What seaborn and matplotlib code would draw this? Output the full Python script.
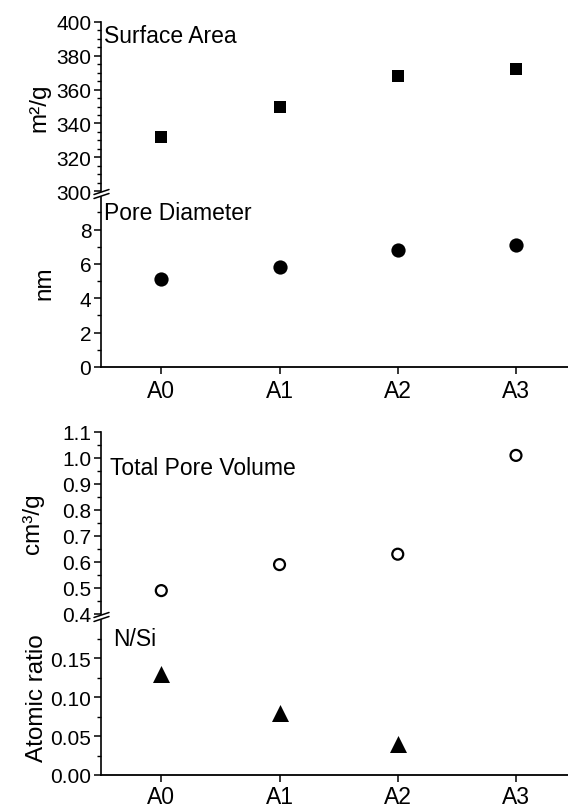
import matplotlib
matplotlib.use("Agg")
import matplotlib.pyplot as plt
from matplotlib.ticker import MultipleLocator, FormatStrFormatter
from matplotlib.lines import Line2D
import seaborn as sns

samples = ["A0", "A1", "A2", "A3"]
surface_area = [332, 350, 368, 372]
pore_diameter = [5.1, 5.8, 6.8, 7.1]
pore_volume = [0.49, 0.59, 0.63, 1.01]
n_si_ratio = [0.13, 0.08, 0.04]

sns.set_theme(style="ticks")
plt.rcParams["font.family"] = ["Liberation Sans", "DejaVu Sans"]
plt.rcParams["text.color"] = "black"
plt.rcParams["axes.edgecolor"] = "black"

fig = plt.figure(figsize=(5.68, 8.12), dpi=100)
H = 812.0
Wpx = 568.0
left = 101 / Wpx
width = 467 / Wpx

ax1 = fig.add_axes([left, 620 / H, width, 169 / H])
ax2 = fig.add_axes([left, 444 / H, width, 170 / H])
ax3 = fig.add_axes([left, 197 / H, width, 182 / H])
ax4 = fig.add_axes([left, 36 / H, width, 155 / H])

sns.scatterplot(x=samples, y=surface_area, ax=ax1, marker="s", s=75,
                color="black", edgecolor="black", linewidth=0)
sns.scatterplot(x=samples, y=pore_diameter, ax=ax2, marker="o", s=105,
                color="black", edgecolor="black", linewidth=0)
sns.scatterplot(x=samples, y=pore_volume, ax=ax3, marker="o", s=62,
                facecolor="none", edgecolor="black", linewidth=1.6)
sns.scatterplot(x=samples[:3], y=n_si_ratio, ax=ax4, marker="^", s=150,
                color="black", edgecolor="black", linewidth=0)

for ax in (ax1, ax2, ax3, ax4):
    ax.set_xlim(-0.51, 3.44)
    ax.set_xticks(range(len(samples)))
    ax.set_xticklabels(samples)
    for side in ("top", "right"):
        ax.spines[side].set_visible(False)
    ax.spines["left"].set_linewidth(1.2)
    ax.spines["bottom"].set_linewidth(1.3)
    ax.tick_params(axis="y", which="major", direction="out", length=5,
                   width=1.1, labelsize=15, pad=2, colors="black")
    ax.tick_params(axis="y", which="minor", direction="out", length=3,
                   width=1.0, colors="black")
    ax.tick_params(axis="x", which="major", direction="out", length=5,
                   width=1.1, labelsize=16.5, pad=4, colors="black")
    ax.set_xlabel("")

ax4.tick_params(axis="x", pad=2.5)

for ax in (ax1, ax3):
    ax.spines["bottom"].set_visible(False)
    ax.tick_params(axis="x", bottom=False, labelbottom=False)

ax1.set_ylim(300, 400)
ax1.yaxis.set_major_locator(MultipleLocator(20))
ax1.yaxis.set_minor_locator(MultipleLocator(5))

ax2.set_ylim(0, 9.9)
ax2.yaxis.set_major_locator(MultipleLocator(2))
ax2.yaxis.set_minor_locator(MultipleLocator(1))

ax3.set_ylim(0.4, 1.1)
ax3.yaxis.set_major_locator(MultipleLocator(0.1))
ax3.yaxis.set_minor_locator(MultipleLocator(0.05))
ax3.yaxis.set_major_formatter(FormatStrFormatter("%.1f"))

ax4.set_ylim(0, 0.199)
ax4.yaxis.set_major_locator(MultipleLocator(0.05))
ax4.yaxis.set_minor_locator(MultipleLocator(0.025))
ax4.yaxis.set_major_formatter(FormatStrFormatter("%.2f"))

labels = [(ax1, "m²/g", 50), (ax2, "nm", 55), (ax3, "cm³/g", 44), (ax4, "Atomic ratio", 48)]
for ax, lab, xr in labels:
    ax.set_ylabel(lab, fontsize=17.5, color="black")
    ax.yaxis.set_label_coords((xr - 101) / 467, 0.5)

ax1.text(0.006, 0.882, "Surface Area", transform=ax1.transAxes,
         fontsize=16.5, va="baseline", ha="left", color="black")
ax2.text(0.006, 0.871, "Pore Diameter", transform=ax2.transAxes,
         fontsize=16.5, va="baseline", ha="left", color="black")
ax3.text(0.019, 0.769, "Total Pore Volume", transform=ax3.transAxes,
         fontsize=16.5, va="baseline", ha="left", color="black")
ax4.text(0.026, 0.84, "N/Si", transform=ax4.transAxes,
         fontsize=16.5, va="baseline", ha="left", color="black")

# axis break marks
for ybreak in (195, 618):
    for dy in (-2, 2):
        x0, x1 = 94 / Wpx, 109 / Wpx
        y0 = (H - (ybreak + dy + 2.5)) / H
        y1 = (H - (ybreak + dy - 2.5)) / H
        fig.add_artist(Line2D([x0, x1], [y0, y1], color="black", lw=1.1))

fig.savefig("out.png", dpi=100, facecolor="white")
